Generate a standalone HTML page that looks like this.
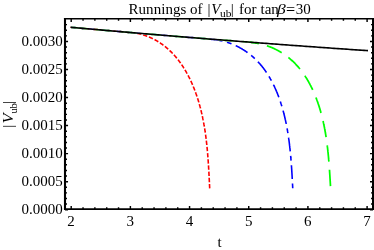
<!DOCTYPE html>
<html><head><meta charset="utf-8"><title>Runnings of |Vub| for tan beta = 30</title>
<style>
html,body{margin:0;padding:0;background:#fff;}
body{width:374px;height:250px;overflow:hidden;}
svg{display:block;will-change:transform;}
text{font-family:"Liberation Serif",serif;font-size:15px;fill:#000;}
</style></head><body>
<svg width="374" height="250" viewBox="0 0 374 250">
<rect width="374" height="250" fill="#fff"/>
<!-- curves -->
<path d="M70.50 27.26 L71.50 27.35 L72.50 27.44 L73.50 27.53 L74.50 27.62 L75.50 27.71 L76.50 27.80 L77.50 27.89 L78.50 27.98 L79.50 28.07 L80.50 28.16 L81.50 28.25 L82.50 28.34 L83.50 28.43 L84.50 28.52 L85.50 28.60 L86.50 28.69 L87.50 28.78 L88.50 28.87 L89.50 28.96 L90.50 29.05 L91.50 29.14 L92.50 29.22 L93.50 29.31 L94.50 29.40 L95.50 29.49 L96.50 29.58 L97.50 29.66 L98.50 29.75 L99.50 29.84 L100.50 29.93 L101.50 30.02 L102.50 30.10 L103.50 30.19 L104.50 30.28 L105.50 30.37 L106.50 30.45 L107.50 30.54 L108.50 30.63 L109.50 30.71 L110.50 30.80 L111.50 30.89 L112.50 30.97 L113.50 31.06 L114.50 31.15 L115.50 31.23 L116.50 31.32 L117.50 31.41 L118.50 31.49 L119.50 31.58 L120.50 31.67 L121.50 31.75 L122.50 31.84 L123.50 31.92 L124.50 32.01 L125.50 32.10 L126.50 32.18 L127.50 32.27 L128.50 32.35 L129.50 32.44 L130.50 32.52 L131.50 32.61 L132.50 32.69 L133.68 32.82 L134.08 32.88 L134.48 32.94 L134.88 33.00 L135.28 33.06 L135.67 33.13 L136.07 33.20 L136.46 33.27 L136.85 33.35 L137.24 33.42 L137.63 33.50 L138.02 33.58 L138.41 33.67 L138.80 33.75 L139.18 33.84 L139.57 33.93 L139.95 34.02 L140.33 34.12 L140.71 34.21 L141.09 34.31 L141.47 34.41 L141.85 34.52 L142.22 34.62 L142.60 34.73 L142.97 34.84 L143.34 34.95 L143.72 35.07 L144.08 35.19 L144.45 35.30 L144.82 35.42 L145.19 35.55 L145.55 35.67 L145.92 35.80 L146.28 35.93 L146.64 36.06 L147.00 36.20 L147.36 36.33 L147.72 36.47 L148.07 36.61 L148.43 36.75 L148.78 36.89 L149.14 37.04 L149.49 37.19 L149.84 37.34 L150.19 37.49 L150.54 37.64 L150.88 37.80 L151.23 37.96 L151.57 38.12 L151.92 38.28 L152.26 38.44 L152.60 38.61 L152.94 38.77 L153.28 38.94 L153.62 39.11 L153.95 39.29 L154.29 39.46 L154.62 39.64 L154.95 39.82 L155.28 40.00 L155.61 40.18 L155.94 40.36 L156.27 40.55 L156.60 40.74 L156.92 40.93 L157.24 41.12 L157.57 41.31 L157.89 41.50 L158.21 41.70 L158.53 41.90 L158.85 42.10 L159.16 42.30 L159.48 42.50 L159.79 42.71 L160.11 42.91 L160.42 43.12 L160.73 43.33 L161.04 43.54 L161.34 43.76 L161.65 43.97 L161.96 44.19 L162.26 44.41 L162.56 44.63 L162.87 44.85 L163.17 45.07 L163.47 45.29 L163.76 45.52 L164.06 45.75 L164.36 45.98 L164.65 46.21 L164.95 46.44 L165.24 46.67 L165.53 46.91 L165.82 47.14 L166.11 47.38 L166.39 47.62 L166.68 47.86 L166.96 48.10 L167.25 48.35 L167.53 48.59 L167.81 48.84 L168.09 49.08 L168.37 49.33 L168.65 49.58 L168.92 49.84 L169.20 50.09 L169.47 50.34 L169.74 50.60 L170.01 50.86 L170.28 51.12 L170.55 51.38 L170.82 51.64 L171.09 51.90 L171.35 52.16 L171.61 52.43 L171.88 52.69 L172.14 52.96 L172.40 53.23 L172.66 53.50 L172.91 53.77 L173.17 54.04 L173.43 54.32 L173.68 54.59 L173.93 54.87 L174.18 55.15 L174.43 55.42 L174.68 55.70 L174.93 55.98 L175.18 56.27 L175.42 56.55 L175.66 56.83 L175.91 57.12 L176.15 57.40 L176.39 57.69 L176.63 57.98 L176.87 58.27 L177.10 58.56 L177.34 58.85 L177.57 59.14 L177.81 59.44 L178.04 59.73 L178.27 60.03 L178.50 60.32 L178.73 60.62 L178.95 60.92 L179.18 61.22 L179.41 61.52 L179.63 61.82 L179.85 62.12 L180.07 62.43 L180.29 62.73 L180.51 63.04 L180.73 63.35 L180.95 63.65 L181.16 63.96 L181.38 64.27 L181.59 64.58 L181.81 64.89 L182.02 65.20 L182.23 65.52 L182.44 65.83 L182.64 66.14 L182.85 66.46 L183.06 66.78 L183.26 67.09 L183.46 67.41 L183.67 67.73 L183.87 68.05 L184.07 68.37 L184.27 68.69 L184.46 69.01 L184.66 69.34 L184.86 69.66 L185.05 69.98 L185.25 70.31 L185.44 70.63 L185.63 70.96 L185.82 71.29 L186.01 71.62 L186.20 71.94 L186.39 72.27 L186.57 72.60 L186.76 72.93 L186.94 73.27 L187.12 73.60 L187.31 73.93 L187.49 74.26 L187.67 74.60 L187.85 74.93 L188.02 75.27 L188.20 75.60 L188.38 75.94 L188.55 76.28 L188.72 76.62 L188.90 76.95 L189.07 77.29 L189.24 77.63 L189.41 77.97 L189.58 78.31 L189.74 78.65 L189.91 79.00 L190.08 79.34 L190.24 79.68 L190.41 80.03 L190.57 80.37 L190.73 80.71 L190.89 81.06 L191.05 81.40 L191.21 81.75 L191.37 82.10 L191.52 82.44 L191.68 82.79 L191.83 83.14 L191.99 83.49 L192.14 83.83 L192.29 84.18 L192.44 84.53 L192.59 84.88 L192.74 85.23 L192.89 85.58 L193.04 85.93 L193.18 86.28 L193.33 86.64 L193.47 86.99 L193.62 87.34 L193.76 87.69 L193.90 88.05 L194.04 88.40 L194.18 88.75 L194.32 89.11 L194.46 89.46 L194.60 89.82 L194.73 90.17 L194.87 90.53 L195.00 90.88 L195.13 91.24 L195.27 91.59 L195.40 91.95 L195.53 92.30 L195.66 92.66 L195.79 93.02 L195.92 93.37 L196.04 93.73 L196.17 94.09 L196.30 94.45 L196.42 94.81 L196.54 95.16 L196.67 95.52 L196.79 95.88 L196.91 96.24 L197.03 96.60 L197.15 96.96 L197.27 97.32 L197.39 97.68 L197.50 98.04 L197.62 98.40 L197.74 98.76 L197.85 99.12 L197.96 99.48 L198.08 99.85 L198.19 100.21 L198.30 100.57 L198.41 100.93 L198.52 101.29 L198.63 101.66 L198.74 102.02 L198.84 102.38 L198.95 102.74 L199.06 103.11 L199.16 103.47 L199.27 103.84 L199.37 104.20 L199.47 104.56 L199.57 104.93 L199.68 105.29 L199.78 105.66 L199.88 106.02 L199.97 106.39 L200.07 106.75 L200.17 107.12 L200.27 107.49 L200.36 107.85 L200.46 108.22 L200.55 108.58 L200.65 108.95 L200.74 109.32 L200.83 109.68 L200.92 110.05 L201.01 110.42 L201.10 110.79 L201.19 111.15 L201.28 111.52 L201.37 111.89 L201.46 112.26 L201.54 112.63 L201.63 113.00 L201.72 113.37 L201.80 113.73 L201.88 114.10 L201.97 114.47 L202.05 114.84 L202.13 115.21 L202.21 115.58 L202.29 115.95 L202.37 116.32 L202.45 116.69 L202.53 117.06 L202.61 117.43 L202.69 117.80 L202.76 118.17 L202.84 118.55 L202.91 118.92 L202.99 119.29 L203.06 119.66 L203.14 120.03 L203.21 120.40 L203.28 120.77 L203.35 121.15 L203.42 121.52 L203.50 121.89 L203.57 122.26 L203.63 122.64 L203.70 123.01 L203.77 123.38 L203.84 123.75 L203.91 124.13 L203.97 124.50 L204.04 124.87 L204.10 125.25 L204.17 125.62 L204.23 125.99 L204.29 126.37 L204.36 126.74 L204.42 127.12 L204.48 127.49 L204.54 127.86 L204.60 128.24 L204.66 128.61 L204.72 128.99 L204.78 129.36 L204.84 129.74 L204.90 130.11 L204.96 130.49 L205.01 130.86 L205.07 131.24 L205.13 131.61 L205.18 131.99 L205.24 132.36 L205.29 132.74 L205.34 133.11 L205.40 133.49 L205.45 133.87 L205.50 134.24 L205.56 134.62 L205.61 134.99 L205.66 135.37 L205.71 135.75 L205.76 136.12 L205.81 136.50 L205.86 136.87 L205.91 137.25 L205.95 137.63 L206.00 138.00 L206.05 138.38 L206.10 138.76 L206.14 139.13 L206.19 139.51 L206.23 139.89 L206.28 140.26 L206.32 140.64 L206.37 141.02 L206.41 141.40 L206.45 141.77 L206.50 142.15 L206.54 142.53 L206.58 142.90 L206.62 143.28 L206.67 143.66 L206.71 144.04 L206.75 144.41 L206.79 144.79 L206.83 145.17 L206.87 145.55 L206.90 145.92 L206.94 146.30 L206.98 146.68 L207.02 147.06 L207.06 147.44 L207.09 147.81 L207.13 148.19 L207.17 148.57 L207.20 148.95 L207.24 149.32 L207.27 149.70 L207.31 150.08 L207.34 150.46 L207.38 150.84 L207.41 151.21 L207.45 151.59 L207.48 151.97 L207.51 152.35 L207.54 152.73 L207.58 153.10 L207.61 153.48 L207.64 153.86 L207.67 154.24 L207.70 154.62 L207.73 154.99 L207.76 155.37 L207.79 155.75 L207.82 156.13 L207.85 156.51 L207.88 156.88 L207.91 157.26 L207.94 157.64 L207.97 158.02 L208.00 158.40 L208.03 158.77 L208.05 159.15 L208.08 159.53 L208.11 159.91 L208.14 160.29 L208.16 160.66 L208.19 161.04 L208.21 161.42 L208.24 161.80 L208.27 162.17 L208.29 162.55 L208.32 162.93 L208.34 163.31 L208.37 163.68 L208.39 164.06 L208.42 164.44 L208.44 164.82 L208.46 165.19 L208.49 165.57 L208.51 165.95 L208.54 166.33 L208.56 166.70 L208.58 167.08 L208.60 167.46 L208.63 167.83 L208.65 168.21 L208.67 168.59 L208.69 168.96 L208.72 169.34 L208.74 169.72 L208.76 170.09 L208.78 170.47 L208.80 170.85 L208.82 171.22 L208.84 171.60 L208.87 171.98 L208.89 172.35 L208.91 172.73 L208.93 173.10 L208.95 173.48 L208.97 173.86 L208.99 174.23 L209.01 174.61 L209.03 174.98 L209.05 175.36 L209.07 175.73 L209.09 176.11 L209.11 176.49 L209.13 176.86 L209.14 177.24 L209.16 177.61 L209.18 177.99 L209.20 178.36 L209.22 178.73 L209.24 179.11 L209.26 179.48 L209.28 179.86 L209.30 180.23 L209.31 180.61 L209.33 180.98 L209.35 181.35 L209.37 181.73 L209.39 182.10 L209.41 182.48 L209.42 182.85 L209.44 183.22 L209.46 183.60 L209.48 183.97 L209.50 184.34 L209.51 184.71 L209.53 185.09 L209.55 185.46 L209.57 185.83 L209.59 186.20 L209.60 186.58 L209.62 186.95 L209.64 187.32 L209.66 187.69 L209.68 188.06 L209.69 188.44 L209.71 188.81 L209.73 189.18 L209.75 189.55" fill="none" stroke="#ff0000" stroke-width="1.6" stroke-dasharray="4.35 1.86" stroke-dashoffset="1.47"/>
<path d="M70.50 27.26 L71.50 27.35 L72.50 27.44 L73.50 27.53 L74.50 27.62 L75.50 27.71 L76.50 27.80 L77.50 27.89 L78.50 27.98 L79.50 28.07 L80.50 28.16 L81.50 28.25 L82.50 28.34 L83.50 28.43 L84.50 28.52 L85.50 28.60 L86.50 28.69 L87.50 28.78 L88.50 28.87 L89.50 28.96 L90.50 29.05 L91.50 29.14 L92.50 29.22 L93.50 29.31 L94.50 29.40 L95.50 29.49 L96.50 29.58 L97.50 29.66 L98.50 29.75 L99.50 29.84 L100.50 29.93 L101.50 30.02 L102.50 30.10 L103.50 30.19 L104.50 30.28 L105.50 30.37 L106.50 30.45 L107.50 30.54 L108.50 30.63 L109.50 30.71 L110.50 30.80 L111.50 30.89 L112.50 30.97 L113.50 31.06 L114.50 31.15 L115.50 31.23 L116.50 31.32 L117.50 31.41 L118.50 31.49 L119.50 31.58 L120.50 31.67 L121.50 31.75 L122.50 31.84 L123.50 31.92 L124.50 32.01 L125.50 32.10 L126.50 32.18 L127.50 32.27 L128.50 32.35 L129.50 32.44 L130.50 32.52 L131.50 32.61 L132.50 32.69 L133.50 32.78 L134.50 32.86 L135.50 32.95 L136.50 33.03 L137.50 33.12 L138.50 33.20 L139.50 33.29 L140.50 33.37 L141.50 33.46 L142.50 33.54 L143.50 33.63 L144.50 33.71 L145.50 33.80 L146.50 33.88 L147.50 33.96 L148.50 34.05 L149.50 34.13 L150.50 34.22 L151.50 34.30 L152.50 34.38 L153.50 34.47 L154.50 34.55 L155.50 34.63 L156.50 34.72 L157.50 34.80 L158.50 34.88 L159.50 34.97 L160.50 35.05 L161.50 35.13 L162.50 35.22 L163.50 35.30 L164.50 35.38 L165.50 35.47 L166.50 35.55 L167.50 35.63 L168.50 35.71 L169.50 35.80 L170.50 35.88 L171.50 35.96 L172.50 36.04 L173.50 36.13 L174.50 36.21 L175.50 36.29 L176.50 36.37 L177.50 36.45 L178.50 36.53 L179.50 36.62 L180.50 36.70 L181.50 36.78 L182.50 36.86 L183.50 36.94 L184.50 37.02 L185.50 37.11 L186.50 37.19 L187.50 37.27 L188.50 37.35 L189.50 37.43 L190.50 37.51 L191.50 37.59 L192.50 37.67 L193.50 37.75 L194.50 37.83 L195.50 37.91 L196.50 37.99 L197.50 38.07 L198.50 38.15 L199.50 38.23 L200.50 38.31 L201.50 38.39 L202.50 38.47 L203.50 38.55 L204.50 38.63 L205.50 38.71 L206.50 38.79 L207.50 38.87 L208.50 38.95 L209.64 39.22 L210.04 39.25 L210.43 39.28 L210.83 39.31 L211.23 39.34 L211.62 39.38 L212.02 39.41 L212.42 39.44 L212.81 39.47 L213.20 39.51 L213.60 39.54 L213.99 39.58 L214.38 39.63 L214.77 39.67 L215.16 39.72 L215.55 39.77 L215.94 39.82 L216.33 39.87 L216.71 39.93 L217.10 39.98 L217.48 40.04 L217.87 40.11 L218.25 40.17 L218.64 40.24 L219.02 40.30 L219.40 40.38 L219.78 40.45 L220.16 40.52 L220.54 40.60 L220.92 40.68 L221.30 40.76 L221.68 40.84 L222.05 40.93 L222.43 41.02 L222.80 41.11 L223.18 41.20 L223.55 41.29 L223.92 41.39 L224.30 41.48 L224.67 41.58 L225.04 41.69 L225.41 41.79 L225.78 41.89 L226.14 42.00 L226.51 42.11 L226.88 42.22 L227.24 42.34 L227.60 42.45 L227.97 42.57 L228.33 42.69 L228.69 42.81 L229.05 42.94 L229.41 43.06 L229.77 43.19 L230.13 43.32 L230.49 43.45 L230.84 43.58 L231.20 43.72 L231.55 43.85 L231.90 43.99 L232.26 44.13 L232.61 44.27 L232.96 44.42 L233.31 44.57 L233.66 44.71 L234.01 44.86 L234.35 45.01 L234.70 45.17 L235.04 45.32 L235.39 45.48 L235.73 45.64 L236.07 45.80 L236.41 45.96 L236.75 46.13 L237.09 46.29 L237.43 46.46 L237.77 46.63 L238.10 46.80 L238.44 46.97 L238.77 47.15 L239.10 47.32 L239.43 47.50 L239.76 47.68 L240.09 47.86 L240.42 48.05 L240.75 48.23 L241.08 48.42 L241.40 48.61 L241.73 48.80 L242.05 48.99 L242.37 49.18 L242.69 49.38 L243.01 49.57 L243.33 49.77 L243.65 49.97 L243.97 50.17 L244.28 50.37 L244.60 50.58 L244.91 50.78 L245.22 50.99 L245.53 51.20 L245.84 51.41 L246.15 51.62 L246.46 51.84 L246.77 52.05 L247.07 52.27 L247.38 52.49 L247.68 52.71 L247.98 52.93 L248.28 53.15 L248.58 53.38 L248.88 53.60 L249.18 53.83 L249.47 54.06 L249.77 54.29 L250.06 54.52 L250.35 54.75 L250.64 54.99 L250.93 55.23 L251.22 55.46 L251.51 55.70 L251.80 55.94 L252.08 56.18 L252.36 56.43 L252.65 56.67 L252.93 56.92 L253.21 57.16 L253.49 57.41 L253.76 57.66 L254.04 57.91 L254.31 58.17 L254.59 58.42 L254.86 58.68 L255.13 58.93 L255.40 59.19 L255.67 59.45 L255.93 59.71 L256.20 59.97 L256.46 60.23 L256.73 60.50 L256.99 60.76 L257.25 61.03 L257.51 61.30 L257.77 61.57 L258.02 61.84 L258.28 62.11 L258.53 62.38 L258.78 62.66 L259.03 62.93 L259.28 63.21 L259.53 63.49 L259.78 63.77 L260.02 64.05 L260.27 64.33 L260.51 64.61 L260.75 64.89 L260.99 65.18 L261.23 65.46 L261.47 65.75 L261.71 66.04 L261.94 66.33 L262.17 66.62 L262.41 66.91 L262.64 67.20 L262.87 67.49 L263.10 67.79 L263.32 68.08 L263.55 68.38 L263.77 68.68 L264.00 68.98 L264.22 69.28 L264.44 69.58 L264.66 69.88 L264.88 70.18 L265.10 70.49 L265.31 70.79 L265.53 71.10 L265.74 71.40 L265.95 71.71 L266.17 72.02 L266.38 72.33 L266.59 72.64 L266.79 72.95 L267.00 73.26 L267.20 73.58 L267.41 73.89 L267.61 74.21 L267.81 74.52 L268.01 74.84 L268.21 75.16 L268.41 75.47 L268.61 75.79 L268.80 76.11 L269.00 76.43 L269.19 76.76 L269.38 77.08 L269.57 77.40 L269.77 77.73 L269.95 78.05 L270.14 78.38 L270.33 78.70 L270.51 79.03 L270.70 79.36 L270.88 79.69 L271.06 80.02 L271.24 80.35 L271.42 80.68 L271.60 81.01 L271.78 81.34 L271.96 81.68 L272.13 82.01 L272.31 82.35 L272.48 82.68 L272.65 83.02 L272.82 83.35 L272.99 83.69 L273.16 84.03 L273.33 84.37 L273.50 84.71 L273.66 85.05 L273.83 85.39 L273.99 85.73 L274.16 86.07 L274.32 86.41 L274.48 86.75 L274.64 87.10 L274.80 87.44 L274.95 87.79 L275.11 88.13 L275.27 88.48 L275.42 88.82 L275.57 89.17 L275.73 89.52 L275.88 89.87 L276.03 90.21 L276.18 90.56 L276.33 90.91 L276.47 91.26 L276.62 91.61 L276.77 91.96 L276.91 92.31 L277.05 92.67 L277.20 93.02 L277.34 93.37 L277.48 93.72 L277.62 94.08 L277.76 94.43 L277.90 94.78 L278.03 95.14 L278.17 95.49 L278.31 95.85 L278.44 96.21 L278.57 96.56 L278.71 96.92 L278.84 97.27 L278.97 97.63 L279.10 97.99 L279.23 98.35 L279.35 98.70 L279.48 99.06 L279.61 99.42 L279.73 99.78 L279.86 100.14 L279.98 100.50 L280.10 100.86 L280.22 101.22 L280.34 101.58 L280.46 101.94 L280.58 102.30 L280.70 102.66 L280.82 103.02 L280.94 103.38 L281.05 103.75 L281.17 104.11 L281.28 104.47 L281.39 104.83 L281.51 105.19 L281.62 105.56 L281.73 105.92 L281.84 106.28 L281.95 106.64 L282.06 107.01 L282.16 107.37 L282.27 107.74 L282.38 108.10 L282.48 108.46 L282.59 108.83 L282.69 109.19 L282.79 109.56 L282.89 109.92 L283.00 110.29 L283.10 110.65 L283.20 111.02 L283.29 111.38 L283.39 111.75 L283.49 112.11 L283.59 112.48 L283.68 112.84 L283.78 113.21 L283.87 113.58 L283.97 113.94 L284.06 114.31 L284.15 114.68 L284.24 115.04 L284.33 115.41 L284.42 115.78 L284.51 116.15 L284.60 116.51 L284.69 116.88 L284.78 117.25 L284.86 117.62 L284.95 117.99 L285.03 118.35 L285.12 118.72 L285.20 119.09 L285.28 119.46 L285.37 119.83 L285.45 120.20 L285.53 120.57 L285.61 120.94 L285.69 121.31 L285.77 121.68 L285.85 122.05 L285.92 122.41 L286.00 122.78 L286.08 123.16 L286.15 123.53 L286.23 123.90 L286.30 124.27 L286.38 124.64 L286.45 125.01 L286.52 125.38 L286.59 125.75 L286.67 126.12 L286.74 126.49 L286.81 126.86 L286.88 127.23 L286.94 127.61 L287.01 127.98 L287.08 128.35 L287.15 128.72 L287.21 129.09 L287.28 129.46 L287.35 129.84 L287.41 130.21 L287.47 130.58 L287.54 130.95 L287.60 131.33 L287.66 131.70 L287.73 132.07 L287.79 132.45 L287.85 132.82 L287.91 133.19 L287.97 133.56 L288.03 133.94 L288.08 134.31 L288.14 134.68 L288.20 135.06 L288.26 135.43 L288.31 135.80 L288.37 136.18 L288.43 136.55 L288.48 136.93 L288.53 137.30 L288.59 137.67 L288.64 138.05 L288.69 138.42 L288.75 138.80 L288.80 139.17 L288.85 139.55 L288.90 139.92 L288.95 140.29 L289.00 140.67 L289.05 141.04 L289.10 141.42 L289.15 141.79 L289.20 142.17 L289.25 142.54 L289.29 142.92 L289.34 143.29 L289.39 143.67 L289.43 144.04 L289.48 144.42 L289.52 144.79 L289.57 145.17 L289.61 145.54 L289.65 145.92 L289.70 146.29 L289.74 146.67 L289.78 147.04 L289.82 147.42 L289.87 147.80 L289.91 148.17 L289.95 148.55 L289.99 148.92 L290.03 149.30 L290.07 149.67 L290.11 150.05 L290.15 150.43 L290.18 150.80 L290.22 151.18 L290.26 151.55 L290.30 151.93 L290.33 152.31 L290.37 152.68 L290.41 153.06 L290.44 153.43 L290.48 153.81 L290.51 154.19 L290.55 154.56 L290.58 154.94 L290.62 155.31 L290.65 155.69 L290.69 156.07 L290.72 156.44 L290.75 156.82 L290.78 157.19 L290.82 157.57 L290.85 157.95 L290.88 158.32 L290.91 158.70 L290.94 159.07 L290.97 159.45 L291.00 159.83 L291.03 160.20 L291.06 160.58 L291.09 160.95 L291.12 161.33 L291.15 161.71 L291.18 162.08 L291.21 162.46 L291.24 162.84 L291.27 163.21 L291.29 163.59 L291.32 163.96 L291.35 164.34 L291.38 164.72 L291.40 165.09 L291.43 165.47 L291.45 165.84 L291.48 166.22 L291.51 166.59 L291.53 166.97 L291.56 167.35 L291.58 167.72 L291.61 168.10 L291.63 168.47 L291.66 168.85 L291.68 169.22 L291.71 169.60 L291.73 169.98 L291.75 170.35 L291.78 170.73 L291.80 171.10 L291.82 171.48 L291.85 171.85 L291.87 172.23 L291.89 172.60 L291.91 172.98 L291.94 173.35 L291.96 173.73 L291.98 174.10 L292.00 174.48 L292.03 174.85 L292.05 175.23 L292.07 175.60 L292.09 175.98 L292.11 176.35 L292.13 176.73 L292.15 177.10 L292.17 177.48 L292.19 177.85 L292.22 178.22 L292.24 178.60 L292.26 178.97 L292.28 179.35 L292.30 179.72 L292.32 180.10 L292.34 180.47 L292.36 180.84 L292.38 181.22 L292.40 181.59 L292.42 181.96 L292.44 182.34 L292.45 182.71 L292.47 183.08 L292.49 183.46 L292.51 183.83 L292.53 184.20 L292.55 184.58 L292.57 184.95 L292.59 185.32 L292.61 185.70 L292.63 186.07 L292.65 186.44 L292.67 186.81 L292.69 187.19 L292.70 187.56 L292.72 187.93 L292.74 188.30" fill="none" stroke="#0000ff" stroke-width="1.6" stroke-dasharray="13.7 4.6 4.8 4.6" stroke-dashoffset="27.20"/>
<path d="M70.50 27.26 L71.50 27.35 L72.50 27.44 L73.50 27.53 L74.50 27.62 L75.50 27.71 L76.50 27.80 L77.50 27.89 L78.50 27.98 L79.50 28.07 L80.50 28.16 L81.50 28.25 L82.50 28.34 L83.50 28.43 L84.50 28.52 L85.50 28.60 L86.50 28.69 L87.50 28.78 L88.50 28.87 L89.50 28.96 L90.50 29.05 L91.50 29.14 L92.50 29.22 L93.50 29.31 L94.50 29.40 L95.50 29.49 L96.50 29.58 L97.50 29.66 L98.50 29.75 L99.50 29.84 L100.50 29.93 L101.50 30.02 L102.50 30.10 L103.50 30.19 L104.50 30.28 L105.50 30.37 L106.50 30.45 L107.50 30.54 L108.50 30.63 L109.50 30.71 L110.50 30.80 L111.50 30.89 L112.50 30.97 L113.50 31.06 L114.50 31.15 L115.50 31.23 L116.50 31.32 L117.50 31.41 L118.50 31.49 L119.50 31.58 L120.50 31.67 L121.50 31.75 L122.50 31.84 L123.50 31.92 L124.50 32.01 L125.50 32.10 L126.50 32.18 L127.50 32.27 L128.50 32.35 L129.50 32.44 L130.50 32.52 L131.50 32.61 L132.50 32.69 L133.50 32.78 L134.50 32.86 L135.50 32.95 L136.50 33.03 L137.50 33.12 L138.50 33.20 L139.50 33.29 L140.50 33.37 L141.50 33.46 L142.50 33.54 L143.50 33.63 L144.50 33.71 L145.50 33.80 L146.50 33.88 L147.50 33.96 L148.50 34.05 L149.50 34.13 L150.50 34.22 L151.50 34.30 L152.50 34.38 L153.50 34.47 L154.50 34.55 L155.50 34.63 L156.50 34.72 L157.50 34.80 L158.50 34.88 L159.50 34.97 L160.50 35.05 L161.50 35.13 L162.50 35.22 L163.50 35.30 L164.50 35.38 L165.50 35.47 L166.50 35.55 L167.50 35.63 L168.50 35.71 L169.50 35.80 L170.50 35.88 L171.50 35.96 L172.50 36.04 L173.50 36.13 L174.50 36.21 L175.50 36.29 L176.50 36.37 L177.50 36.45 L178.50 36.53 L179.50 36.62 L180.50 36.70 L181.50 36.78 L182.50 36.86 L183.50 36.94 L184.50 37.02 L185.50 37.11 L186.50 37.19 L187.50 37.27 L188.50 37.35 L189.50 37.43 L190.50 37.51 L191.50 37.59 L192.50 37.67 L193.50 37.75 L194.50 37.83 L195.50 37.91 L196.50 37.99 L197.50 38.07 L198.50 38.15 L199.50 38.23 L200.50 38.31 L201.50 38.39 L202.50 38.47 L203.50 38.55 L204.50 38.63 L205.50 38.71 L206.50 38.79 L207.50 38.87 L208.50 38.95 L209.50 39.03 L210.50 39.11 L211.50 39.19 L212.50 39.27 L213.50 39.35 L214.50 39.43 L215.50 39.51 L216.50 39.59 L217.50 39.67 L218.50 39.74 L219.50 39.82 L220.50 39.90 L221.50 39.98 L222.50 40.06 L223.50 40.14 L224.50 40.21 L225.50 40.29 L226.50 40.37 L227.50 40.45 L228.50 40.53 L229.50 40.61 L230.50 40.68 L231.50 40.76 L232.50 40.84 L233.50 40.92 L234.50 40.99 L235.50 41.07 L236.50 41.15 L237.50 41.23 L238.50 41.30 L239.50 41.38 L240.50 41.46 L241.50 41.53 L242.50 41.61 L243.50 41.69 L244.50 41.76 L245.50 41.84 L246.50 41.92 L247.50 41.99 L248.50 42.07 L249.50 42.15 L250.50 42.22 L251.50 42.30 L251.82 42.58 L252.19 42.62 L252.56 42.65 L252.93 42.69 L253.30 42.73 L253.67 42.77 L254.04 42.81 L254.41 42.86 L254.78 42.91 L255.15 42.96 L255.51 43.01 L255.88 43.06 L256.24 43.12 L256.61 43.18 L256.97 43.24 L257.34 43.30 L257.70 43.36 L258.06 43.43 L258.43 43.50 L258.79 43.57 L259.15 43.64 L259.51 43.71 L259.87 43.79 L260.23 43.87 L260.59 43.95 L260.94 44.03 L261.30 44.11 L261.66 44.20 L262.01 44.29 L262.37 44.38 L262.72 44.47 L263.08 44.57 L263.43 44.66 L263.78 44.76 L264.13 44.86 L264.48 44.96 L264.83 45.06 L265.18 45.17 L265.53 45.28 L265.88 45.39 L266.23 45.50 L266.57 45.61 L266.92 45.72 L267.27 45.84 L267.61 45.96 L267.95 46.08 L268.30 46.20 L268.64 46.33 L268.98 46.45 L269.32 46.58 L269.66 46.71 L270.00 46.84 L270.34 46.97 L270.67 47.11 L271.01 47.24 L271.35 47.38 L271.68 47.52 L272.01 47.66 L272.35 47.81 L272.68 47.95 L273.01 48.10 L273.34 48.25 L273.67 48.40 L274.00 48.55 L274.33 48.70 L274.65 48.86 L274.98 49.02 L275.31 49.17 L275.63 49.33 L275.95 49.50 L276.28 49.66 L276.60 49.83 L276.92 49.99 L277.24 50.16 L277.56 50.33 L277.88 50.50 L278.19 50.68 L278.51 50.85 L278.82 51.03 L279.14 51.21 L279.45 51.39 L279.76 51.57 L280.08 51.75 L280.39 51.93 L280.69 52.12 L281.00 52.31 L281.31 52.50 L281.62 52.69 L281.92 52.88 L282.23 53.07 L282.53 53.27 L282.83 53.47 L283.13 53.66 L283.43 53.86 L283.73 54.06 L284.03 54.27 L284.33 54.47 L284.62 54.68 L284.92 54.88 L285.21 55.09 L285.50 55.30 L285.80 55.51 L286.09 55.73 L286.38 55.94 L286.66 56.16 L286.95 56.37 L287.24 56.59 L287.52 56.81 L287.81 57.03 L288.09 57.25 L288.37 57.48 L288.65 57.70 L288.93 57.93 L289.21 58.16 L289.49 58.39 L289.76 58.62 L290.04 58.85 L290.31 59.08 L290.58 59.32 L290.85 59.55 L291.12 59.79 L291.39 60.03 L291.66 60.27 L291.93 60.51 L292.19 60.75 L292.46 60.99 L292.72 61.24 L292.98 61.48 L293.24 61.73 L293.50 61.98 L293.76 62.23 L294.01 62.48 L294.27 62.73 L294.52 62.98 L294.78 63.24 L295.03 63.49 L295.28 63.75 L295.53 64.01 L295.77 64.27 L296.02 64.53 L296.27 64.79 L296.51 65.05 L296.75 65.31 L296.99 65.58 L297.23 65.84 L297.47 66.11 L297.71 66.38 L297.95 66.65 L298.18 66.92 L298.42 67.19 L298.65 67.46 L298.88 67.73 L299.11 68.01 L299.34 68.28 L299.57 68.56 L299.79 68.84 L300.02 69.12 L300.24 69.39 L300.47 69.67 L300.69 69.96 L300.91 70.24 L301.13 70.52 L301.35 70.81 L301.56 71.09 L301.78 71.38 L302.00 71.66 L302.21 71.95 L302.42 72.24 L302.63 72.53 L302.84 72.82 L303.05 73.11 L303.26 73.41 L303.47 73.70 L303.67 73.99 L303.88 74.29 L304.08 74.59 L304.28 74.88 L304.49 75.18 L304.69 75.48 L304.88 75.78 L305.08 76.08 L305.28 76.38 L305.47 76.68 L305.67 76.98 L305.86 77.29 L306.06 77.59 L306.25 77.90 L306.44 78.20 L306.63 78.51 L306.81 78.82 L307.00 79.12 L307.19 79.43 L307.37 79.74 L307.56 80.05 L307.74 80.36 L307.92 80.68 L308.10 80.99 L308.28 81.30 L308.46 81.62 L308.64 81.93 L308.81 82.24 L308.99 82.56 L309.16 82.88 L309.34 83.19 L309.51 83.51 L309.68 83.83 L309.85 84.15 L310.02 84.47 L310.19 84.79 L310.35 85.11 L310.52 85.43 L310.69 85.75 L310.85 86.07 L311.01 86.40 L311.18 86.72 L311.34 87.05 L311.50 87.37 L311.66 87.70 L311.81 88.02 L311.97 88.35 L312.13 88.67 L312.28 89.00 L312.44 89.33 L312.59 89.66 L312.74 89.99 L312.90 90.31 L313.05 90.64 L313.20 90.97 L313.35 91.30 L313.49 91.64 L313.64 91.97 L313.79 92.30 L313.93 92.63 L314.08 92.96 L314.22 93.30 L314.36 93.63 L314.50 93.96 L314.64 94.30 L314.78 94.63 L314.92 94.97 L315.06 95.30 L315.20 95.64 L315.33 95.97 L315.47 96.31 L315.60 96.65 L315.73 96.98 L315.87 97.32 L316.00 97.66 L316.13 98.00 L316.26 98.33 L316.39 98.67 L316.52 99.01 L316.64 99.35 L316.77 99.69 L316.90 100.03 L317.02 100.37 L317.14 100.71 L317.27 101.05 L317.39 101.39 L317.51 101.73 L317.63 102.07 L317.75 102.41 L317.87 102.75 L317.99 103.09 L318.11 103.44 L318.22 103.78 L318.34 104.12 L318.45 104.46 L318.57 104.81 L318.68 105.15 L318.79 105.49 L318.91 105.84 L319.02 106.18 L319.13 106.52 L319.24 106.87 L319.34 107.21 L319.45 107.56 L319.56 107.90 L319.67 108.25 L319.77 108.59 L319.88 108.94 L319.98 109.29 L320.08 109.63 L320.19 109.98 L320.29 110.32 L320.39 110.67 L320.49 111.02 L320.59 111.37 L320.69 111.71 L320.79 112.06 L320.88 112.41 L320.98 112.76 L321.08 113.11 L321.17 113.45 L321.27 113.80 L321.36 114.15 L321.45 114.50 L321.54 114.85 L321.64 115.20 L321.73 115.55 L321.82 115.90 L321.91 116.25 L322.00 116.60 L322.08 116.95 L322.17 117.30 L322.26 117.65 L322.34 118.00 L322.43 118.35 L322.52 118.71 L322.60 119.06 L322.68 119.41 L322.77 119.76 L322.85 120.11 L322.93 120.47 L323.01 120.82 L323.09 121.17 L323.17 121.52 L323.25 121.88 L323.33 122.23 L323.41 122.58 L323.48 122.94 L323.56 123.29 L323.64 123.64 L323.71 124.00 L323.79 124.35 L323.86 124.71 L323.93 125.06 L324.01 125.41 L324.08 125.77 L324.15 126.12 L324.22 126.48 L324.29 126.83 L324.36 127.19 L324.43 127.54 L324.50 127.90 L324.57 128.26 L324.64 128.61 L324.70 128.97 L324.77 129.32 L324.84 129.68 L324.90 130.04 L324.97 130.39 L325.03 130.75 L325.09 131.11 L325.16 131.46 L325.22 131.82 L325.28 132.18 L325.34 132.53 L325.41 132.89 L325.47 133.25 L325.53 133.60 L325.59 133.96 L325.64 134.32 L325.70 134.68 L325.76 135.04 L325.82 135.39 L325.88 135.75 L325.93 136.11 L325.99 136.47 L326.04 136.83 L326.10 137.18 L326.15 137.54 L326.21 137.90 L326.26 138.26 L326.31 138.62 L326.37 138.98 L326.42 139.34 L326.47 139.69 L326.52 140.05 L326.57 140.41 L326.62 140.77 L326.67 141.13 L326.72 141.49 L326.77 141.85 L326.82 142.21 L326.87 142.57 L326.91 142.93 L326.96 143.29 L327.01 143.65 L327.06 144.01 L327.10 144.37 L327.15 144.73 L327.19 145.09 L327.24 145.45 L327.28 145.81 L327.32 146.17 L327.37 146.53 L327.41 146.89 L327.45 147.25 L327.50 147.61 L327.54 147.97 L327.58 148.33 L327.62 148.69 L327.66 149.05 L327.70 149.41 L327.74 149.77 L327.78 150.13 L327.82 150.49 L327.86 150.85 L327.90 151.21 L327.94 151.57 L327.97 151.93 L328.01 152.29 L328.05 152.65 L328.09 153.01 L328.12 153.37 L328.16 153.73 L328.19 154.10 L328.23 154.46 L328.27 154.82 L328.30 155.18 L328.33 155.54 L328.37 155.90 L328.40 156.26 L328.44 156.62 L328.47 156.98 L328.50 157.34 L328.54 157.70 L328.57 158.06 L328.60 158.42 L328.63 158.78 L328.66 159.14 L328.70 159.50 L328.73 159.87 L328.76 160.23 L328.79 160.59 L328.82 160.95 L328.85 161.31 L328.88 161.67 L328.91 162.03 L328.94 162.39 L328.97 162.75 L328.99 163.11 L329.02 163.47 L329.05 163.83 L329.08 164.19 L329.11 164.55 L329.13 164.91 L329.16 165.27 L329.19 165.63 L329.21 165.99 L329.24 166.35 L329.27 166.71 L329.29 167.07 L329.32 167.43 L329.35 167.79 L329.37 168.15 L329.40 168.51 L329.42 168.87 L329.45 169.23 L329.47 169.59 L329.50 169.95 L329.52 170.30 L329.55 170.66 L329.57 171.02 L329.59 171.38 L329.62 171.74 L329.64 172.10 L329.66 172.46 L329.69 172.82 L329.71 173.18 L329.73 173.53 L329.76 173.89 L329.78 174.25 L329.80 174.61 L329.83 174.97 L329.85 175.33 L329.87 175.68 L329.89 176.04 L329.91 176.40 L329.94 176.76 L329.96 177.12 L329.98 177.47 L330.00 177.83 L330.02 178.19 L330.04 178.54 L330.07 178.90 L330.09 179.26 L330.11 179.62 L330.13 179.97 L330.15 180.33 L330.17 180.69 L330.19 181.04 L330.21 181.40 L330.23 181.75 L330.25 182.11 L330.27 182.47 L330.29 182.82 L330.31 183.18 L330.33 183.53 L330.35 183.89 L330.37 184.24 L330.39 184.60 L330.41 184.95 L330.43 185.31 L330.46 185.66 L330.48 186.02 L330.50 186.37 L330.52 186.73 L330.53 187.08" fill="none" stroke="#00ff00" stroke-width="1.75" stroke-dasharray="16.35 8.25" stroke-dashoffset="23.89"/>
<path d="M69.50 27.17 L71.53 27.36 L73.56 27.54 L75.58 27.72 L77.61 27.90 L79.64 28.08 L81.67 28.26 L83.70 28.44 L85.72 28.62 L87.75 28.80 L89.78 28.98 L91.81 29.16 L93.84 29.34 L95.87 29.52 L97.89 29.70 L99.92 29.88 L101.95 30.06 L103.98 30.23 L106.01 30.41 L108.03 30.59 L110.06 30.76 L112.09 30.94 L114.12 31.11 L116.15 31.29 L118.17 31.47 L120.20 31.64 L122.23 31.81 L124.26 31.99 L126.29 32.16 L128.31 32.34 L130.34 32.51 L132.37 32.68 L134.40 32.86 L136.43 33.03 L138.46 33.20 L140.48 33.37 L142.51 33.54 L144.54 33.71 L146.57 33.89 L148.60 34.06 L150.62 34.23 L152.65 34.40 L154.68 34.57 L156.71 34.74 L158.74 34.90 L160.76 35.07 L162.79 35.24 L164.82 35.41 L166.85 35.58 L168.88 35.74 L170.90 35.91 L172.93 36.08 L174.96 36.24 L176.99 36.41 L179.02 36.58 L181.04 36.74 L183.07 36.91 L185.10 37.07 L187.13 37.24 L189.16 37.40 L191.19 37.57 L193.21 37.73 L195.24 37.89 L197.27 38.06 L199.30 38.22 L201.33 38.38 L203.35 38.54 L205.38 38.70 L207.41 38.87 L209.44 39.03 L211.47 39.19 L213.49 39.35 L215.52 39.51 L217.55 39.67 L219.58 39.83 L221.61 39.99 L223.63 40.15 L225.66 40.31 L227.69 40.46 L229.72 40.62 L231.75 40.78 L233.78 40.94 L235.80 41.09 L237.83 41.25 L239.86 41.41 L241.89 41.56 L243.92 41.72 L245.94 41.88 L247.97 42.03 L250.00 42.19" fill="none" stroke="#fff" stroke-opacity="0.55" stroke-width="2.1" stroke-linecap="butt"/>
<path d="M70.50 27.26 L72.50 27.44 L74.49 27.62 L76.49 27.80 L78.49 27.98 L80.48 28.16 L82.48 28.34 L84.48 28.51 L86.47 28.69 L88.47 28.87 L90.47 29.04 L92.46 29.22 L94.46 29.40 L96.46 29.57 L98.45 29.75 L100.45 29.92 L102.45 30.10 L104.44 30.27 L106.44 30.45 L108.44 30.62 L110.43 30.80 L112.43 30.97 L114.43 31.14 L116.42 31.31 L118.42 31.49 L120.42 31.66 L122.41 31.83 L124.41 32.00 L126.41 32.17 L128.40 32.34 L130.40 32.52 L132.40 32.69 L134.39 32.86 L136.39 33.03 L138.39 33.19 L140.38 33.36 L142.38 33.53 L144.38 33.70 L146.37 33.87 L148.37 34.04 L150.37 34.20 L152.36 34.37 L154.36 34.54 L156.36 34.71 L158.35 34.87 L160.35 35.04 L162.35 35.20 L164.34 35.37 L166.34 35.54 L168.34 35.70 L170.33 35.86 L172.33 36.03 L174.33 36.19 L176.32 36.36 L178.32 36.52 L180.32 36.68 L182.31 36.85 L184.31 37.01 L186.31 37.17 L188.30 37.33 L190.30 37.49 L192.30 37.66 L194.29 37.82 L196.29 37.98 L198.29 38.14 L200.28 38.30 L202.28 38.46 L204.28 38.62 L206.27 38.78 L208.27 38.93 L210.27 39.09 L212.26 39.25 L214.26 39.41 L216.26 39.57 L218.25 39.72 L220.25 39.88 L222.24 40.04 L224.24 40.19 L226.24 40.35 L228.23 40.51 L230.23 40.66 L232.23 40.82 L234.22 40.97 L236.22 41.13 L238.22 41.28 L240.21 41.44 L242.21 41.59 L244.21 41.74 L246.20 41.90 L248.20 42.05 L250.20 42.20 L252.19 42.35 L254.19 42.51 L256.19 42.66 L258.18 42.81 L260.18 42.96 L262.18 43.11 L264.17 43.26 L266.17 43.41 L268.17 43.56 L270.16 43.71 L272.16 43.86 L274.16 44.01 L276.15 44.16 L278.15 44.30 L280.15 44.45 L282.14 44.60 L284.14 44.75 L286.14 44.89 L288.13 45.04 L290.13 45.19 L292.13 45.33 L294.12 45.48 L296.12 45.63 L298.12 45.77 L300.11 45.92 L302.11 46.06 L304.11 46.20 L306.10 46.35 L308.10 46.49 L310.10 46.64 L312.09 46.78 L314.09 46.92 L316.09 47.06 L318.08 47.21 L320.08 47.35 L322.08 47.49 L324.07 47.63 L326.07 47.77 L328.07 47.91 L330.06 48.05 L332.06 48.19 L334.06 48.33 L336.05 48.47 L338.05 48.61 L340.05 48.75 L342.04 48.89 L344.04 49.03 L346.04 49.17 L348.03 49.30 L350.03 49.44 L352.03 49.58 L354.02 49.72 L356.02 49.85 L358.02 49.99 L360.01 50.12 L362.01 50.26 L364.01 50.39 L366.00 50.53 L368.00 50.66" fill="none" stroke="#000" stroke-width="1.6"/>
<!-- frame -->
<path d="M65.0 18.099999999999998 V209.1 M373.05 18.099999999999998 V209.1" fill="none" stroke="#000" stroke-width="2.1"/>
<path d="M63.95 209.1 H374.1" fill="none" stroke="#000" stroke-width="1.9"/>
<path d="M63.95 18.799999999999997 H374.1" fill="none" stroke="#000" stroke-width="1.6"/>
<path d="M71.20 209.10 v-3.15 M71.20 18.90 v3.15 M83.04 209.10 v-1.90 M83.04 18.90 v1.90 M94.87 209.10 v-1.90 M94.87 18.90 v1.90 M106.71 209.10 v-1.90 M106.71 18.90 v1.90 M118.54 209.10 v-1.90 M118.54 18.90 v1.90 M130.38 209.10 v-3.15 M130.38 18.90 v3.15 M142.22 209.10 v-1.90 M142.22 18.90 v1.90 M154.05 209.10 v-1.90 M154.05 18.90 v1.90 M165.89 209.10 v-1.90 M165.89 18.90 v1.90 M177.72 209.10 v-1.90 M177.72 18.90 v1.90 M189.56 209.10 v-3.15 M189.56 18.90 v3.15 M201.40 209.10 v-1.90 M201.40 18.90 v1.90 M213.23 209.10 v-1.90 M213.23 18.90 v1.90 M225.07 209.10 v-1.90 M225.07 18.90 v1.90 M236.90 209.10 v-1.90 M236.90 18.90 v1.90 M248.74 209.10 v-3.15 M248.74 18.90 v3.15 M260.58 209.10 v-1.90 M260.58 18.90 v1.90 M272.41 209.10 v-1.90 M272.41 18.90 v1.90 M284.25 209.10 v-1.90 M284.25 18.90 v1.90 M296.08 209.10 v-1.90 M296.08 18.90 v1.90 M307.92 209.10 v-3.15 M307.92 18.90 v3.15 M319.76 209.10 v-1.90 M319.76 18.90 v1.90 M331.59 209.10 v-1.90 M331.59 18.90 v1.90 M343.43 209.10 v-1.90 M343.43 18.90 v1.90 M355.26 209.10 v-1.90 M355.26 18.90 v1.90 M367.10 209.10 v-3.15 M367.10 18.90 v3.15 M65.00 209.70 h3.05 M373.05 209.70 h-3.05 M65.00 204.09 h2.00 M373.05 204.09 h-2.00 M65.00 198.48 h2.00 M373.05 198.48 h-2.00 M65.00 192.88 h2.00 M373.05 192.88 h-2.00 M65.00 187.27 h2.00 M373.05 187.27 h-2.00 M65.00 181.66 h3.05 M373.05 181.66 h-3.05 M65.00 176.05 h2.00 M373.05 176.05 h-2.00 M65.00 170.44 h2.00 M373.05 170.44 h-2.00 M65.00 164.84 h2.00 M373.05 164.84 h-2.00 M65.00 159.23 h2.00 M373.05 159.23 h-2.00 M65.00 153.62 h3.05 M373.05 153.62 h-3.05 M65.00 148.01 h2.00 M373.05 148.01 h-2.00 M65.00 142.40 h2.00 M373.05 142.40 h-2.00 M65.00 136.80 h2.00 M373.05 136.80 h-2.00 M65.00 131.19 h2.00 M373.05 131.19 h-2.00 M65.00 125.58 h3.05 M373.05 125.58 h-3.05 M65.00 119.97 h2.00 M373.05 119.97 h-2.00 M65.00 114.36 h2.00 M373.05 114.36 h-2.00 M65.00 108.76 h2.00 M373.05 108.76 h-2.00 M65.00 103.15 h2.00 M373.05 103.15 h-2.00 M65.00 97.54 h3.05 M373.05 97.54 h-3.05 M65.00 91.93 h2.00 M373.05 91.93 h-2.00 M65.00 86.32 h2.00 M373.05 86.32 h-2.00 M65.00 80.72 h2.00 M373.05 80.72 h-2.00 M65.00 75.11 h2.00 M373.05 75.11 h-2.00 M65.00 69.50 h3.05 M373.05 69.50 h-3.05 M65.00 63.89 h2.00 M373.05 63.89 h-2.00 M65.00 58.28 h2.00 M373.05 58.28 h-2.00 M65.00 52.68 h2.00 M373.05 52.68 h-2.00 M65.00 47.07 h2.00 M373.05 47.07 h-2.00 M65.00 41.46 h3.05 M373.05 41.46 h-3.05 M65.00 35.85 h2.00 M373.05 35.85 h-2.00 M65.00 30.24 h2.00 M373.05 30.24 h-2.00 M65.00 24.64 h2.00 M373.05 24.64 h-2.00" fill="none" stroke="#000" stroke-width="1.45"/>
<!-- labels -->
<text x="62.7" y="214.40" text-anchor="end">0.0000</text>
<text x="62.7" y="186.36" text-anchor="end">0.0005</text>
<text x="62.7" y="158.32" text-anchor="end">0.0010</text>
<text x="62.7" y="130.28" text-anchor="end">0.0015</text>
<text x="62.7" y="102.24" text-anchor="end">0.0020</text>
<text x="62.7" y="74.20" text-anchor="end">0.0025</text>
<text x="62.7" y="46.16" text-anchor="end">0.0030</text>

<text x="71.10" y="225.9" text-anchor="middle">2</text>
<text x="130.28" y="225.9" text-anchor="middle">3</text>
<text x="189.46" y="225.9" text-anchor="middle">4</text>
<text x="248.64" y="225.9" text-anchor="middle">5</text>
<text x="307.82" y="225.9" text-anchor="middle">6</text>
<text x="367.00" y="225.9" text-anchor="middle">7</text>

<text x="219.5" y="247.0" text-anchor="middle">t</text>
<g style="font-size:15px">
<text x="128.5" y="13.9" style="letter-spacing:0.05px">Runnings</text>
<text x="190.0" y="13.9">of</text>
<text x="207.5" y="13.9">|</text>
<text x="211.3" y="13.9" font-style="italic">V</text>
<text x="220.0" y="16.5" style="font-size:11.4px">ub</text>
<text x="230.7" y="13.9">|</text>
<text x="238.9" y="13.9">for</text>
<text x="260.5" y="13.9">tan</text>
<text transform="translate(277.0 13.9) scale(1.17 1)" font-style="italic">β</text>
<text x="285.9" y="14.6" style="font-size:16.2px">=</text>
<text x="295.8" y="13.9">30</text>
</g>
<g transform="translate(0 128) rotate(-90)">
<text x="0.3" y="12.7">|</text>
<text transform="translate(4.4 13.0) scale(1.13 1)" font-style="italic" style="font-size:14.6px">V</text>
<text x="14.5" y="16.5" style="font-size:10.6px;letter-spacing:-0.4px">ub</text>
<text x="24.1" y="12.7">|</text>
</g>
</svg>
</body></html>
